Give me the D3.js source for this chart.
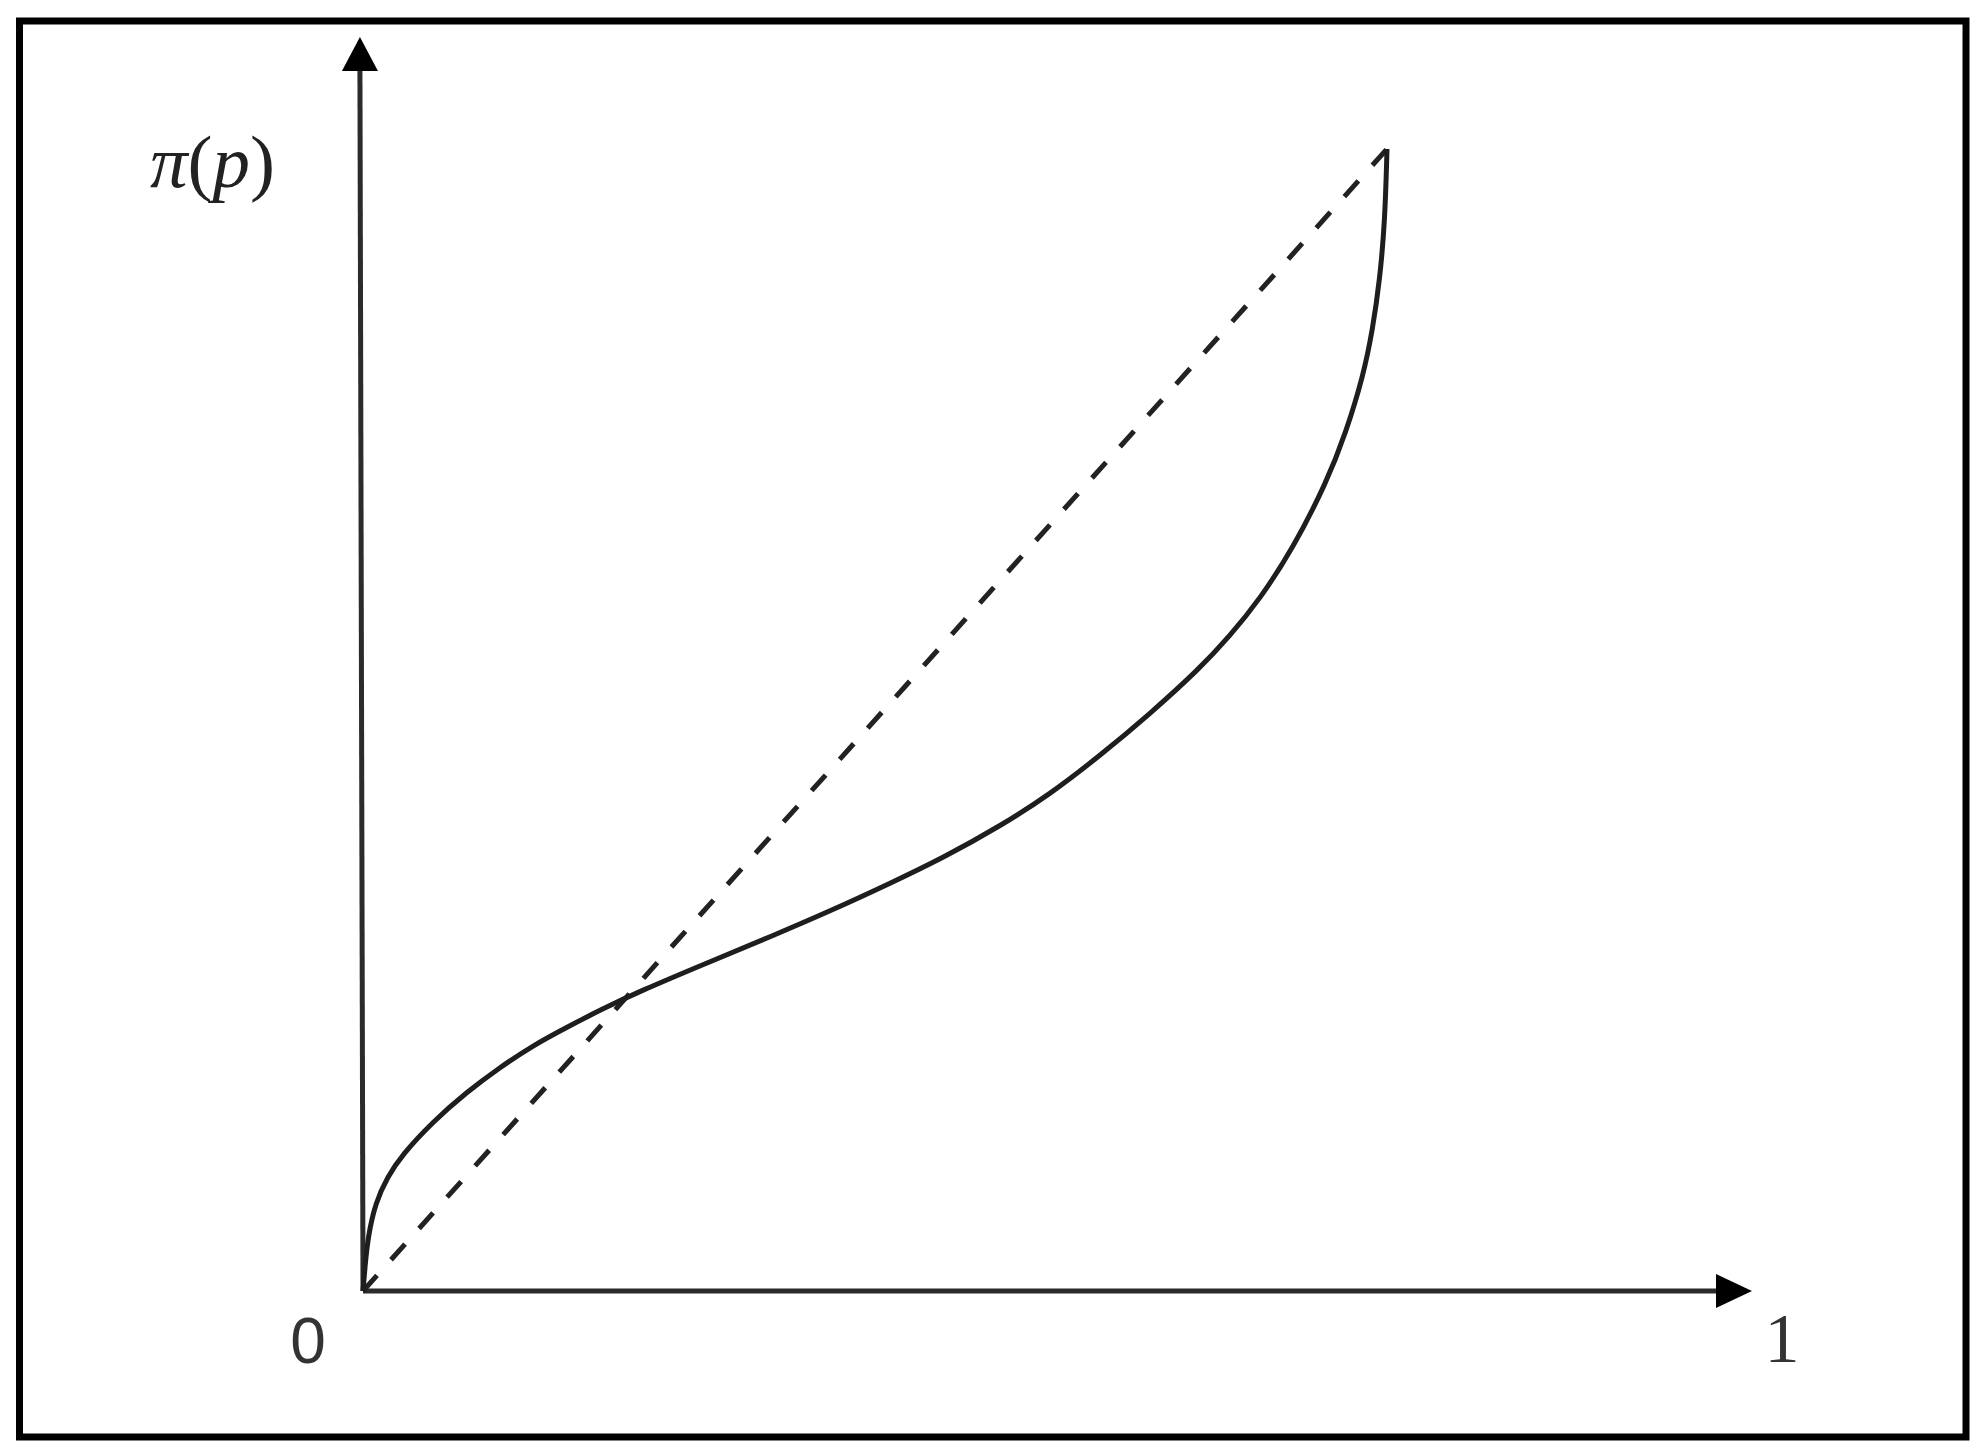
<!DOCTYPE html>
<html>
<head>
<meta charset="utf-8">
<script src="https://cdn.jsdelivr.net/npm/d3@7"></script>
<style>
  body { margin: 0; background: #fff; }
  svg { display: block; }
</style>
</head>
<body>
<svg id="chart" width="1983" height="1453"></svg>
<script>
// probability weighting curve (p -> pi(p))
const curveP  = [0, 0.002, 0.005, 0.012, 0.024, 0.038, 0.068, 0.101, 0.134, 0.166, 0.199, 0.234,
                 0.269, 0.335, 0.400, 0.457, 0.515, 0.568, 0.622, 0.671, 0.720, 0.768, 0.817,
                 0.846, 0.876, 0.908, 0.941, 0.960, 0.977, 0.986, 0.993, 0.998, 1.0];
const curvePi = [0, 0.022, 0.048, 0.077, 0.100, 0.119, 0.148, 0.174, 0.196, 0.215, 0.231, 0.247,
                 0.262, 0.287, 0.311, 0.333, 0.357, 0.380, 0.407, 0.435, 0.469, 0.505, 0.545,
                 0.573, 0.606, 0.650, 0.708, 0.752, 0.802, 0.842, 0.886, 0.937, 1.0];

// 45 degree reference line
const diagP  = [0, 1];
const diagPi = [0, 1];

const xLabels = ["0", "1"];
const yLabel = ["π", "(", "p", ")"];

const svg = d3.select("#chart");
const W = +svg.attr("width"), H = +svg.attr("height");

svg.append("rect").attr("width", W).attr("height", H).attr("fill", "#fff");

// frame
svg.append("rect")
  .attr("x", 19.5).attr("y", 21)
  .attr("width", 1966 - 19.5).attr("height", 1437 - 21)
  .attr("fill", "none")
  .attr("stroke", "#000")
  .attr("stroke-width", 7);

const x = d3.scaleLinear().domain([0, 1]).range([363, 1387]);
const y = d3.scaleLinear().domain([0, 1]).range([1291, 149]);

const axisColor = "#2b2b2b";

// axes with arrow heads
const xEnd = x.invert(1752);
const yEnd = y.invert(37);

svg.append("line")
  .attr("x1", x(0)).attr("y1", y(0))
  .attr("x2", x(xEnd) - 30).attr("y2", y(0))
  .attr("stroke", axisColor).attr("stroke-width", 5);

svg.append("line")
  .attr("x1", x(0)).attr("y1", y(0))
  .attr("x2", x(-0.003)).attr("y2", y(yEnd) + 30)
  .attr("stroke", axisColor).attr("stroke-width", 5);

svg.append("path")
  .attr("d", `M${x(xEnd)},${y(0)} L${x(xEnd) - 36},${y(0) - 17} L${x(xEnd) - 36},${y(0) + 17} Z`)
  .attr("fill", "#000");

svg.append("path")
  .attr("d", `M${x(-0.003)},${y(yEnd)} L${x(-0.003) - 18},${y(yEnd) + 34} L${x(-0.003) + 18},${y(yEnd) + 34} Z`)
  .attr("fill", "#000");

// dashed diagonal
const diagLine = d3.line()
  .x((d, i) => x(diagP[i]))
  .y((d, i) => y(diagPi[i]));

svg.append("path")
  .datum(diagP)
  .attr("d", diagLine)
  .attr("fill", "none")
  .attr("stroke", "#222")
  .attr("stroke-width", 5)
  .attr("stroke-dasharray", "21,21");

// weighting curve (basis spline smooths the hand-read points)
const curveLine = d3.line()
  .x((d, i) => x(curveP[i]))
  .y((d, i) => y(curvePi[i]))
  .curve(d3.curveBasis);

svg.append("path")
  .datum(curveP)
  .attr("d", curveLine)
  .attr("fill", "none")
  .attr("stroke", "#1e1e1e")
  .attr("stroke-width", 5);

// labels
svg.append("text")
  .attr("x", x(0) - 55).attr("y", y(0) + 72)
  .attr("text-anchor", "middle")
  .attr("font-family", "Liberation Sans, Arial, sans-serif")
  .attr("font-size", 64)
  .attr("fill", "#333")
  .text(xLabels[0]);

svg.append("text")
  .attr("x", x(xEnd) + 30).attr("y", y(0) + 71)
  .attr("text-anchor", "middle")
  .attr("font-family", "Liberation Serif, Times New Roman, serif")
  .attr("font-size", 70)
  .attr("fill", "#333")
  .text(xLabels[1]);

const yl = svg.append("text")
  .attr("x", 150).attr("y", 187)
  .attr("font-family", "Liberation Serif, Times New Roman, serif")
  .attr("font-size", 75)
  .attr("fill", "#222");

yLabel.forEach((s, i) => {
  yl.append("tspan")
    .attr("font-style", (s === "(" || s === ")") ? "normal" : "italic")
    .text(s);
});
</script>
</body>
</html>
